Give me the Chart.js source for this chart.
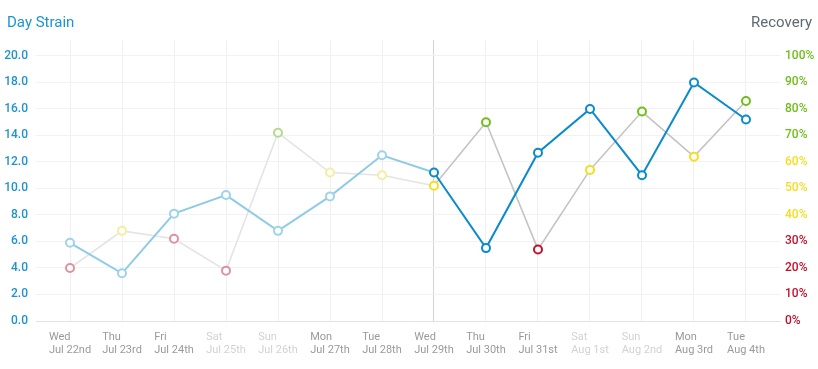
<!DOCTYPE html>
<html><head><meta charset="utf-8">
<script src="https://cdn.jsdelivr.net/npm/chart.js@4.4.1/dist/chart.umd.min.js"></script>
<style>
html,body{margin:0;padding:0;background:#fff;}
#wrap{position:relative;width:818px;height:369px;overflow:hidden;}
canvas{position:absolute;left:0;top:0;}
.t{position:absolute;top:13px;font-family:Roboto,"Noto Sans",sans-serif;font-size:15px;line-height:18px;white-space:nowrap;}
#lt{left:7px;color:#1b95d0;}
#rt{right:6px;color:#5d6a73;}
</style></head><body>
<div id="wrap"><canvas id="c" width="818" height="369"></canvas><div class="t" id="lt">Day Strain</div><div class="t" id="rt">Recovery</div></div>
<script>
const days = ['Wed','Thu','Fri','Sat','Sun','Mon','Tue','Wed','Thu','Fri','Sat','Sun','Mon','Tue'];
const dates = ['Jul 22nd','Jul 23rd','Jul 24th','Jul 25th','Jul 26th','Jul 27th','Jul 28th','Jul 29th','Jul 30th','Jul 31st','Aug 1st','Aug 2nd','Aug 3rd','Aug 4th'];
const strain = [5.9,3.6,8.1,9.5,6.8,9.4,12.5,11.2,5.5,12.7,16.0,11.0,18.0,15.2];
const recovery = [20,34,31,19,71,56,55,51,75,27,57,79,62,83];
const strainTicks = [0,2,4,6,8,10,12,14,16,18,20];
const recoveryTicks = [0,10,20,30,40,50,60,70,80,90,100];
const todayIndex = 7;
const weekendIdx = [3,4,10,11];

const FADE_BLUE = '#8fcbe6', STRONG_BLUE = '#0a8bcb';
const FADE_GRAY = '#e4e4e4', STRONG_GRAY = '#c4c4c4';
function recColor(v, faded) {
  if (v < 34) return faded ? '#e0919f' : '#c5102b';
  if (v < 67) return faded ? '#f4ee9e' : '#f3df1d';
  return faded ? '#b3db87' : '#6fbe1a';
}

const alignPlugin = {
  id: 'leftAlignTicks',
  beforeDraw(chart) {
    const s = chart.scales.x;
    const items = s.getLabelItems();
    if (items._done) return;
    const ctx = chart.ctx;
    items.forEach(it => {
      const o = it.options || it;
      ctx.save(); ctx.font = it.font.string;
      const lines = Array.isArray(it.label) ? it.label : [it.label];
      const w = Math.max(...lines.map(l => ctx.measureText(l).width));
      ctx.restore();
      o.textAlign = 'left';
      if (o.translation) o.translation[0] -= w / 2;
    });
    items._done = true;
  }
};

new Chart(document.getElementById('c'), {
  type: 'line',
  data: {
    datasets: [
      {
        label: 'Day Strain',
        yAxisID: 'y',
        data: strain.map((v, i) => ({x: i, y: v})),
        borderWidth: 2,
        borderColor: STRONG_BLUE,
        segment: { borderColor: c => c.p0DataIndex < todayIndex ? FADE_BLUE : STRONG_BLUE },
        pointRadius: 4, pointHoverRadius: 4, pointBorderWidth: 2,
        pointBackgroundColor: '#fff',
        pointBorderColor: strain.map((v, i) => i < todayIndex ? '#9fd3ea' : STRONG_BLUE),
        tension: 0
      },
      {
        label: 'Recovery',
        yAxisID: 'y1',
        data: recovery.map((v, i) => ({x: i, y: v})),
        borderWidth: 1.6,
        borderColor: STRONG_GRAY,
        segment: { borderColor: c => c.p0DataIndex < todayIndex ? FADE_GRAY : STRONG_GRAY },
        pointRadius: 4, pointHoverRadius: 4, pointBorderWidth: 2,
        pointBackgroundColor: '#fff',
        pointBorderColor: recovery.map((v, i) => recColor(v, i < todayIndex)),
        tension: 0
      }
    ]
  },
  options: {
    responsive: false,
    animation: false,
    layout: { padding: { top: 40, left: 0, right: 0, bottom: 0 } },
    plugins: { legend: { display: false }, tooltip: { enabled: false }, title: { display: false } },
    scales: {
      x: {
        type: 'linear',
        min: -0.654, max: 13.654,
        afterBuildTicks: s => { s.ticks = days.map((d, i) => ({value: i})); },
        afterFit: s => { s.height = 48; },
        grid: {
          drawTicks: false,
          color: c => (c.tick && c.tick.value === todayIndex) ? '#cfd5db' : '#f0f0f0',
          lineWidth: 1
        },
        border: { display: true, color: '#e2e2e2' },
        ticks: {
          padding: 10,
          maxRotation: 0, autoSkip: false,
          font: { family: 'Roboto', size: 11, lineHeight: 1.18 },
          color: c => weekendIdx.includes(c.tick ? c.tick.value : c.index) ? '#d2d2d2' : '#9a9a9a',
          callback: v => [days[v], dates[v]]
        }
      },
      y: {
        position: 'left',
        min: 0, max: 21.2,
        afterBuildTicks: s => { s.ticks = strainTicks.map(v => ({value: v})); },
        afterFit: s => { s.width = 36; },
        grid: { drawTicks: false, color: '#f2f2f2' },
        border: { display: false },
        ticks: {
          padding: 8,
          font: { family: 'Roboto', size: 12, weight: '500' },
          color: '#1f93cf',
          callback: v => Number(v).toFixed(1)
        }
      },
      y1: {
        position: 'right',
        min: 0, max: 106,
        afterBuildTicks: s => { s.ticks = recoveryTicks.map(v => ({value: v})); },
        afterFit: s => { s.width = 38; },
        grid: { display: false, drawTicks: false },
        border: { display: false },
        ticks: {
          padding: 5,
          font: { family: 'Roboto', size: 12, weight: '500' },
          color: c => recColor(c.tick.value, false),
          callback: v => v + '%'
        }
      }
    }
  },
  plugins: [alignPlugin]
});
</script>
</body></html>
